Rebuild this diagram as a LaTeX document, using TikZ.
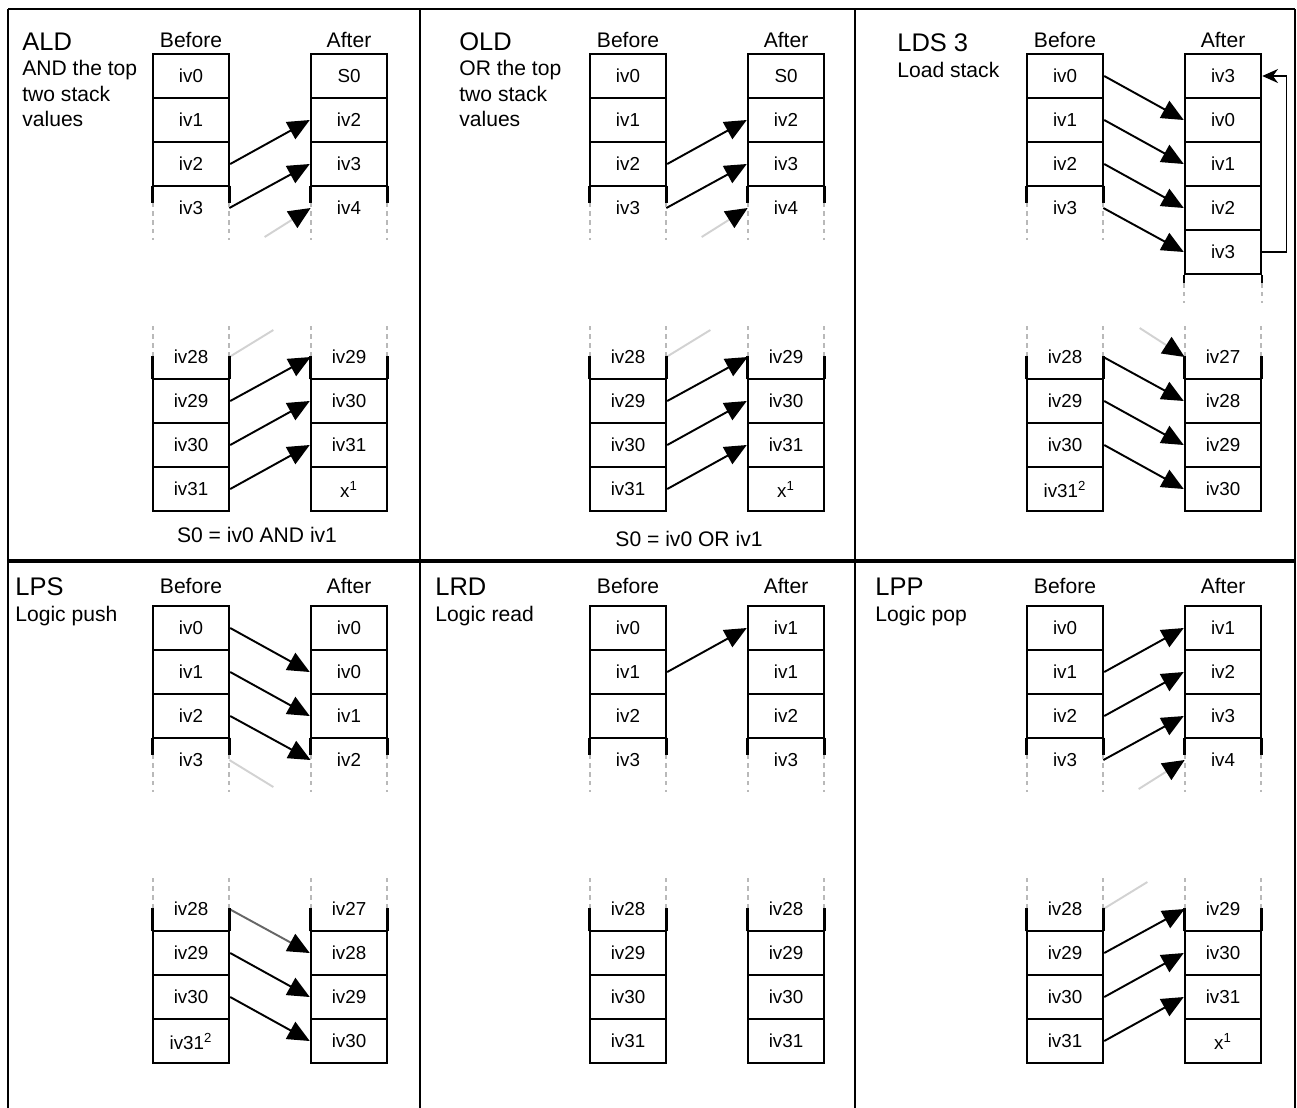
\documentclass[tikz,border=0pt]{standalone}
\usepackage{fontspec}
\setmainfont{Liberation Sans}
\usetikzlibrary{positioning,arrows.meta,calc}

\begin{document}
\begin{tikzpicture}[
    x=0.02cm,y=-0.02cm,
    font=\fontsize{10.7}{12}\selectfont,
    >={Triangle[length=12.5pt,width=11pt]},
    cell/.style={draw,line width=1.4pt,minimum width=1.52cm,minimum height=0.88cm,inner sep=0pt},
    opencell/.style={minimum width=1.52cm,minimum height=0.88cm,inner sep=0pt},
    rim/.style={line width=1.4pt},
    rimdash/.style={line width=1.2pt,gray!55,dash pattern=on 2.5pt off 2.5pt},
    hdr/.style={font=\fontsize{12}{14}\selectfont,anchor=base,inner sep=0pt},
    ttl/.style={font=\fontsize{14.5}{16}\selectfont,anchor=base west,inner sep=0pt},
    dsc/.style={font=\fontsize{12}{14.6}\selectfont,align=left,anchor=north west,inner sep=0pt},
    capt/.style={font=\fontsize{12}{14}\selectfont,inner sep=0pt},
    ar/.style={->,line width=1.1pt},
    fade/.style={line width=1.1pt,gray!35},
    fadear/.style={fade,-{Triangle[length=12.5pt,width=11pt,color=black]}},
    halfar/.style={fadear,draw=black!60},
    loopar/.style={-{Stealth[length=9pt,width=8pt]},line width=0.8pt},
    frame/.style={line width=1.1pt},
  ]
  \useasboundingbox (0,0) rectangle (1297,1107);
  \clip (0,0) rectangle (1297,1107);

  % ---------- FRAME ----------
  \draw[frame] (8,9) -- (1295,9);
  \draw[frame] (8,9) -- (8,1110);
  \draw[frame] (1295,9) -- (1295,1110);
  \draw[frame] (420,9) -- (420,1110);
  \draw[frame] (855,9) -- (855,1110);
  \draw[line width=2pt] (8,561) -- (1295,561);

  % ---------- ALD ----------
  \node[ttl] (tALD) at (22,50) {ALD};
  \node[dsc] (dALD) at (22,60) {AND the top\\two stack\\values};
  \node[hdr] (hbALD) at (191,47) {Before};
  \node[hdr] (haALD) at (349,47) {After};
  \foreach \t [count=\i from 0] in {iv0,iv1,iv2}
    \node[cell] (bALD\i) at (191,76+44*\i) {\t};
  \node[opencell] (bALD3) at (191,208) {iv3};
  \foreach \t [count=\i from 0] in {S0,iv2,iv3}
    \node[cell] (aALD\i) at (349,76+44*\i) {\t};
  \node[opencell] (aALD3) at (349,208) {iv4};
  \node[opencell] (bALD28) at (191,357) {iv28};
  \foreach \t [count=\i from 29] in {iv29,iv30,iv31}
    \node[cell] (bALD\i) at (191,\i*44-875) {\t};
  \node[opencell] (aALD28) at (349,357) {iv29};
  \foreach \t [count=\i from 29] in {iv30,iv31,x\textsuperscript{1}}
    \node[cell] (aALD\i) at (349,\i*44-875) {\t};
  \node[capt] (cALD) at (257,535) {S0 = iv0 AND iv1};

  \draw[ar] (bALD2.east) -- (aALD1.west);
  \draw[ar] (bALD3.east) -- (aALD2.west);
  \coordinate (fALD0) at ($(aALD3.west)+(-46,29)$);
  \draw[fadear] (fALD0) -- (aALD3.west);
  \coordinate (fALD1) at ($(bALD28.east)+(44,-27)$);
  \draw[fade] (bALD28.east) -- (fALD1);
  \draw[ar] (bALD29.east) -- (aALD28.west);
  \draw[ar] (bALD30.east) -- (aALD29.west);
  \draw[ar] (bALD31.east) -- (aALD30.west);

  % ---------- OLD ----------
  \node[ttl] (tOLD) at (459,50) {OLD};
  \node[dsc] (dOLD) at (459,60) {OR the top\\two stack\\values};
  \node[hdr] (hbOLD) at (628,47) {Before};
  \node[hdr] (haOLD) at (786,47) {After};
  \foreach \t [count=\i from 0] in {iv0,iv1,iv2}
    \node[cell] (bOLD\i) at (628,76+44*\i) {\t};
  \node[opencell] (bOLD3) at (628,208) {iv3};
  \foreach \t [count=\i from 0] in {S0,iv2,iv3}
    \node[cell] (aOLD\i) at (786,76+44*\i) {\t};
  \node[opencell] (aOLD3) at (786,208) {iv4};
  \node[opencell] (bOLD28) at (628,357) {iv28};
  \foreach \t [count=\i from 29] in {iv29,iv30,iv31}
    \node[cell] (bOLD\i) at (628,\i*44-875) {\t};
  \node[opencell] (aOLD28) at (786,357) {iv29};
  \foreach \t [count=\i from 29] in {iv30,iv31,x\textsuperscript{1}}
    \node[cell] (aOLD\i) at (786,\i*44-875) {\t};
  \node[capt] (cOLD) at (689,539) {S0 = iv0 OR iv1};

  \draw[ar] (bOLD2.east) -- (aOLD1.west);
  \draw[ar] (bOLD3.east) -- (aOLD2.west);
  \coordinate (fOLD0) at ($(aOLD3.west)+(-46,29)$);
  \draw[fadear] (fOLD0) -- (aOLD3.west);
  \coordinate (fOLD1) at ($(bOLD28.east)+(44,-27)$);
  \draw[fade] (bOLD28.east) -- (fOLD1);
  \draw[ar] (bOLD29.east) -- (aOLD28.west);
  \draw[ar] (bOLD30.east) -- (aOLD29.west);
  \draw[ar] (bOLD31.east) -- (aOLD30.west);

  % ---------- LDS 3 ----------
  \node[ttl] (tLDS) at (897,51) {LDS 3};
  \node[dsc] (dLDS) at (897,62) {Load stack};
  \node[hdr] (hbLDS) at (1065,47) {Before};
  \node[hdr] (haLDS) at (1223,47) {After};
  \foreach \t [count=\i from 0] in {iv0,iv1,iv2}
    \node[cell] (bLDS\i) at (1065,76+44*\i) {\t};
  \node[opencell] (bLDS3) at (1065,208) {iv3};
  \foreach \t [count=\i from 0] in {iv3,iv0,iv1,iv2,iv3}
    \node[cell] (aLDS\i) at (1223,76+44*\i) {\t};
  \node[opencell] (bLDS28) at (1065,357) {iv28};
  \foreach \t [count=\i from 29] in {iv29,iv30,iv31\textsuperscript{2}}
    \node[cell] (bLDS\i) at (1065,\i*44-875) {\t};
  \node[opencell] (aLDS28) at (1223,357) {iv27};
  \foreach \t [count=\i from 29] in {iv28,iv29,iv30}
    \node[cell] (aLDS\i) at (1223,\i*44-875) {\t};

  \foreach \i [count=\j from 1] in {0,1,2,3}
    \draw[ar] (bLDS\i.east) -- (aLDS\j.west);
  \draw[loopar] (aLDS4.east) -- ++(24,0) |- (aLDS0.east);
  \coordinate (fLDS0) at ($(aLDS28.west)+(-45,-29)$);
  \draw[fadear] (fLDS0) -- (aLDS28.west);
  \draw[ar] (bLDS28.east) -- (aLDS29.west);
  \draw[ar] (bLDS29.east) -- (aLDS30.west);
  \draw[ar] (bLDS30.east) -- (aLDS31.west);

  % ---------- LPS ----------
  \node[ttl] (tLPS) at (15,595) {LPS};
  \node[dsc] (dLPS) at (15,606) {Logic push};
  \node[hdr] (hbLPS) at (191,593) {Before};
  \node[hdr] (haLPS) at (349,593) {After};
  \foreach \t [count=\i from 0] in {iv0,iv1,iv2}
    \node[cell] (bLPS\i) at (191,628+44*\i) {\t};
  \node[opencell] (bLPS3) at (191,760) {iv3};
  \foreach \t [count=\i from 0] in {iv0,iv0,iv1}
    \node[cell] (aLPS\i) at (349,628+44*\i) {\t};
  \node[opencell] (aLPS3) at (349,760) {iv2};
  \node[opencell] (bLPS28) at (191,909) {iv28};
  \foreach \t [count=\i from 29] in {iv29,iv30,iv31\textsuperscript{2}}
    \node[cell] (bLPS\i) at (191,\i*44-323) {\t};
  \node[opencell] (aLPS28) at (349,909) {iv27};
  \foreach \t [count=\i from 29] in {iv28,iv29,iv30}
    \node[cell] (aLPS\i) at (349,\i*44-323) {\t};

  \draw[ar] (bLPS0.east) -- (aLPS1.west);
  \draw[ar] (bLPS1.east) -- (aLPS2.west);
  \draw[ar] (bLPS2.east) -- (aLPS3.west);
  \coordinate (fLPS0) at ($(bLPS3.east)+(44,27)$);
  \draw[fade] (bLPS3.east) -- (fLPS0);
  \draw[halfar] (bLPS28.east) -- (aLPS29.west);
  \draw[ar] (bLPS29.east) -- (aLPS30.west);
  \draw[ar] (bLPS30.east) -- (aLPS31.west);

  % ---------- LRD ----------
  \node[ttl] (tLRD) at (435,595) {LRD};
  \node[dsc] (dLRD) at (435,606) {Logic read};
  \node[hdr] (hbLRD) at (628,593) {Before};
  \node[hdr] (haLRD) at (786,593) {After};
  \foreach \t [count=\i from 0] in {iv0,iv1,iv2}
    \node[cell] (bLRD\i) at (628,628+44*\i) {\t};
  \node[opencell] (bLRD3) at (628,760) {iv3};
  \foreach \t [count=\i from 0] in {iv1,iv1,iv2}
    \node[cell] (aLRD\i) at (786,628+44*\i) {\t};
  \node[opencell] (aLRD3) at (786,760) {iv3};
  \node[opencell] (bLRD28) at (628,909) {iv28};
  \foreach \t [count=\i from 29] in {iv29,iv30,iv31}
    \node[cell] (bLRD\i) at (628,\i*44-323) {\t};
  \node[opencell] (aLRD28) at (786,909) {iv28};
  \foreach \t [count=\i from 29] in {iv29,iv30,iv31}
    \node[cell] (aLRD\i) at (786,\i*44-323) {\t};

  \draw[ar] (bLRD1.east) -- (aLRD0.west);

  % ---------- LPP ----------
  \node[ttl] (tLPP) at (875,595) {LPP};
  \node[dsc] (dLPP) at (875,606) {Logic pop};
  \node[hdr] (hbLPP) at (1065,593) {Before};
  \node[hdr] (haLPP) at (1223,593) {After};
  \foreach \t [count=\i from 0] in {iv0,iv1,iv2}
    \node[cell] (bLPP\i) at (1065,628+44*\i) {\t};
  \node[opencell] (bLPP3) at (1065,760) {iv3};
  \foreach \t [count=\i from 0] in {iv1,iv2,iv3}
    \node[cell] (aLPP\i) at (1223,628+44*\i) {\t};
  \node[opencell] (aLPP3) at (1223,760) {iv4};
  \node[opencell] (bLPP28) at (1065,909) {iv28};
  \foreach \t [count=\i from 29] in {iv29,iv30,iv31}
    \node[cell] (bLPP\i) at (1065,\i*44-323) {\t};
  \node[opencell] (aLPP28) at (1223,909) {iv29};
  \foreach \t [count=\i from 29] in {iv30,iv31,x\textsuperscript{1}}
    \node[cell] (aLPP\i) at (1223,\i*44-323) {\t};

  \draw[ar] (bLPP1.east) -- (aLPP0.west);
  \draw[ar] (bLPP2.east) -- (aLPP1.west);
  \draw[ar] (bLPP3.east) -- (aLPP2.west);
  \coordinate (fLPP0) at ($(aLPP3.west)+(-46,29)$);
  \draw[fadear] (fLPP0) -- (aLPP3.west);
  \coordinate (fLPP1) at ($(bLPP28.east)+(44,-27)$);
  \draw[fade] (bLPP28.east) -- (fLPP1);
  \draw[ar] (bLPP29.east) -- (aLPP28.west);
  \draw[ar] (bLPP30.east) -- (aLPP29.west);
  \draw[ar] (bLPP31.east) -- (aLPP30.west);

  % ---------- OPEN STACK ENDS ----------
  \foreach \n in {bALD3,aALD3,bOLD3,aOLD3,bLDS3,bLPS3,aLPS3,bLRD3,aLRD3,bLPP3,aLPP3}
    \foreach \s in {west,east} {
      \draw[rim] (\n.north \s) -- ++(0,17);
      \draw[rimdash] ($(\n.north \s)+(0,17)$) -- ++(0,37);
    }
  \foreach \n in {bALD28,aALD28,bOLD28,aOLD28,bLDS28,aLDS28,bLPS28,aLPS28,bLRD28,aLRD28,bLPP28,aLPP28}
    \foreach \s in {west,east} {
      \draw[rim] (\n.south \s) -- ++(0,-23);
      \draw[rimdash] ($(\n.south \s)+(0,-23)$) -- ++(0,-33);
    }
  \foreach \s in {west,east} {
    \draw[rim] (aLDS4.south \s) -- ++(0,8);
    \draw[rimdash] ($(aLDS4.south \s)+(0,8)$) -- ++(0,20);
  }

\end{tikzpicture}
\end{document}
